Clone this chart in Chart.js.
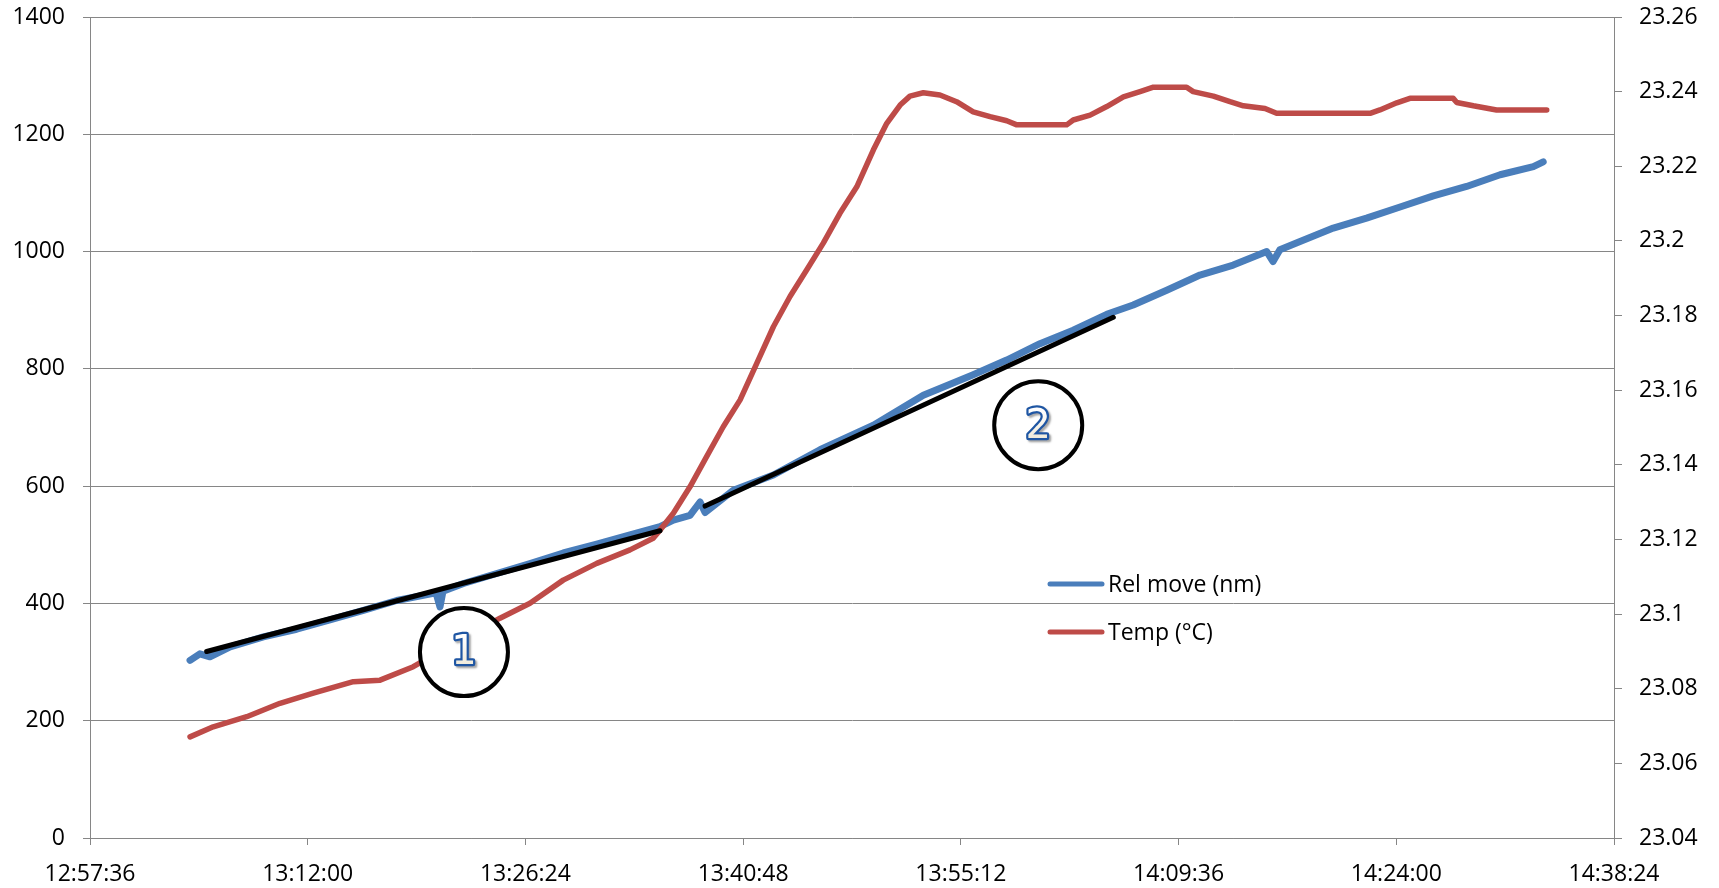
<!DOCTYPE html>
<html>
<head>
<meta charset="utf-8">
<script src="https://cdn.jsdelivr.net/npm/chart.js@4/dist/chart.umd.min.js"></script>
<style>
  html, body { margin: 0; padding: 0; background: #ffffff; }
  #wrap { position: relative; width: 1719px; height: 888px; }
</style>
</head>
<body>
<div id="wrap"><canvas id="c"></canvas></div>
<script>
// Axis tick labels
const timeTicks = ['12:57:36', '13:12:00', '13:26:24', '13:40:48', '13:55:12', '14:09:36', '14:24:00', '14:38:24'];
const moveTicks = [0, 200, 400, 600, 800, 1000, 1200, 1400];
const tempTicks = [23.04, 23.06, 23.08, 23.1, 23.12, 23.14, 23.16, 23.18, 23.2, 23.22, 23.24, 23.26];

// Relative movement (nm)
const moveTimes = ['13:04:13', '13:04:52', '13:05:32', '13:06:52', '13:09:04', '13:11:16', '13:13:28', '13:15:41',
  '13:17:53', '13:20:29', '13:20:45', '13:20:57', '13:22:18', '13:24:30', '13:26:42', '13:28:54', '13:31:07',
  '13:33:19', '13:35:18', '13:36:11', '13:37:17', '13:37:57', '13:38:17', '13:40:09', '13:42:48', '13:45:53',
  '13:49:25', '13:52:43', '13:56:01', '13:58:14', '14:00:26', '14:02:38', '14:04:51', '14:06:36', '14:08:49',
  '14:11:01', '14:13:13', '14:15:26', '14:15:51', '14:16:18', '14:17:38', '14:19:50', '14:22:02', '14:24:15',
  '14:26:27', '14:28:39', '14:30:52', '14:33:04', '14:33:43'];
const moveValues = [303, 314, 309, 326, 343, 356, 372, 388,
  405, 418, 394, 421, 434, 451, 468, 486, 501,
  517, 531, 542, 550, 573, 555, 593, 619, 662,
  704, 755, 790, 815, 843, 866, 893, 909, 934,
  960, 977, 1000, 983, 1003, 1017, 1040, 1057, 1076,
  1095, 1111, 1131, 1145, 1153];

// Temperature (°C)
const tempTimes = ['13:04:13', '13:05:45', '13:07:58', '13:10:10', '13:12:22', '13:15:01', '13:16:47', '13:18:59',
  '13:22:04', '13:24:43', '13:26:42', '13:28:54', '13:31:07', '13:33:19', '13:34:51', '13:35:18', '13:36:11',
  '13:37:17', '13:38:23', '13:39:29', '13:40:36', '13:41:42', '13:42:48', '13:43:54', '13:45:00', '13:46:06',
  '13:47:12', '13:48:19', '13:49:25', '13:50:18', '13:51:11', '13:51:50', '13:52:43', '13:53:49', '13:54:55',
  '13:56:01', '13:57:08', '13:58:14', '13:58:54', '14:02:12', '14:02:38', '14:03:45', '14:04:51', '14:05:57',
  '14:07:03', '14:07:56', '14:10:08', '14:10:34', '14:11:54', '14:13:00', '14:13:53', '14:15:19', '14:16:05',
  '14:22:16', '14:22:55', '14:24:02', '14:24:54', '14:27:46', '14:28:00', '14:29:06', '14:30:38', '14:33:57'];
const tempValues = [23.0671, 23.0698, 23.0725, 23.0761, 23.0788, 23.0819, 23.0823, 23.0859,
  23.0930, 23.0989, 23.1029, 23.1091, 23.1136, 23.1172, 23.1203, 23.1225, 23.1270,
  23.1341, 23.1422, 23.1502, 23.1574, 23.1672, 23.1770, 23.1851, 23.1922, 23.1994,
  23.2074, 23.2145, 23.2244, 23.2315, 23.2364, 23.2388, 23.2397, 23.2391, 23.2373,
  23.2346, 23.2333, 23.2322, 23.2311, 23.2311, 23.2324, 23.2337, 23.2360, 23.2386,
  23.2400, 23.2412, 23.2412, 23.2400, 23.2388, 23.2373, 23.2362, 23.2355, 23.2342,
  23.2342, 23.2351, 23.2370, 23.2382, 23.2382, 23.2371, 23.2362, 23.2351, 23.2351];

// Linear fits over the two phases
const fit1Times = ['13:05:19', '13:35:18'];
const fit1Values = [318, 524];
const fit2Times = ['13:38:17', '14:05:17'];
const fit2Values = [566, 888];

// Numbered phase markers
const markerLabels = ['1', '2'];
const markerTimes = ['13:22:20', '14:00:19'];
const markerValues = [317, 704];

// Legend entries
const seriesNames = ['Rel move (nm)', 'Temp (\u00B0C)'];

const BLUE = '#4a7ebb';
const RED = '#be4b48';
const GRID = '#868686';
const FONT = "'Open Sans', 'Liberation Sans', sans-serif";

function toSec(s) {
  const p = s.split(':').map(Number);
  return p[0] * 3600 + p[1] * 60 + p[2];
}
function pts(times, values) {
  return times.map((t, i) => ({ x: toSec(t), y: values[i] }));
}

const markerPlugin = {
  id: 'phaseMarkers',
  afterDatasetsDraw(chart) {
    const ctx = chart.ctx;
    const xs = chart.scales.x, ys = chart.scales.y;
    markerLabels.forEach((lab, i) => {
      const cx = xs.getPixelForValue(toSec(markerTimes[i]));
      const cy = ys.getPixelForValue(markerValues[i]);
      ctx.save();
      ctx.beginPath();
      ctx.arc(cx, cy, 44, 0, Math.PI * 2);
      ctx.fillStyle = '#ffffff';
      ctx.fill();
      ctx.lineWidth = 4;
      ctx.strokeStyle = '#000000';
      ctx.stroke();
      ctx.font = "40px 'DejaVu Sans', sans-serif";
      ctx.textAlign = 'center';
      ctx.textBaseline = 'middle';
      ctx.shadowColor = 'rgba(0,0,0,0.35)';
      ctx.shadowOffsetX = 2;
      ctx.shadowOffsetY = 2;
      ctx.shadowBlur = 2;
      ctx.lineJoin = 'round';
      ctx.lineWidth = 4.5;
      ctx.strokeStyle = '#1f56a3';
      ctx.strokeText(lab, cx, cy + 2);
      ctx.shadowColor = 'transparent';
      const g = ctx.createLinearGradient(0, cy - 15, 0, cy + 17);
      g.addColorStop(0, '#ffffff');
      g.addColorStop(1, '#eee8d6');
      ctx.fillStyle = g;
      ctx.fillText(lab, cx, cy + 2);
      ctx.restore();
    });
  }
};

const legendPlugin = {
  id: 'innerLegend',
  afterDraw(chart) {
    const ctx = chart.ctx;
    const a = chart.chartArea;
    const colors = [BLUE, RED];
    ctx.save();
    seriesNames.forEach((name, i) => {
      const y = a.top + 567 + i * 48;
      const x0 = a.left + 960;
      ctx.beginPath();
      ctx.moveTo(x0, y);
      ctx.lineTo(x0 + 52, y);
      ctx.lineWidth = 5;
      ctx.lineCap = 'round';
      ctx.strokeStyle = colors[i];
      ctx.stroke();
      ctx.font = '23px ' + FONT;
      ctx.fillStyle = '#000000';
      ctx.textAlign = 'left';
      ctx.textBaseline = 'middle';
      ctx.fillText(name, x0 + 58, y + 1);
    });
    ctx.restore();
  }
};

const lineStyle = {
  pointRadius: 0,
  pointHoverRadius: 0,
  tension: 0,
  borderJoinStyle: 'round',
  borderCapStyle: 'round',
  fill: false
};

new Chart(document.getElementById('c'), {
  type: 'line',
  data: {
    datasets: [
      Object.assign({ label: 'fit 1', data: pts(fit1Times, fit1Values), borderColor: '#000000', borderWidth: 5, yAxisID: 'y' }, lineStyle),
      Object.assign({ label: 'fit 2', data: pts(fit2Times, fit2Values), borderColor: '#000000', borderWidth: 5, yAxisID: 'y' }, lineStyle),
      Object.assign({ label: seriesNames[1], data: pts(tempTimes, tempValues), borderColor: RED, borderWidth: 5.5, yAxisID: 'y2' }, lineStyle),
      Object.assign({ label: seriesNames[0], data: pts(moveTimes, moveValues), borderColor: BLUE, borderWidth: 7, yAxisID: 'y' }, lineStyle)
    ]
  },
  options: {
    responsive: true,
    maintainAspectRatio: false,
    animation: false,
    events: [],
    layout: { padding: { top: 17, left: 0, right: 0, bottom: 0 } },
    plugins: { legend: { display: false }, tooltip: { enabled: false } },
    scales: {
      x: {
        type: 'linear',
        position: 'bottom',
        min: toSec(timeTicks[0]),
        max: toSec(timeTicks[timeTicks.length - 1]),
        afterBuildTicks: s => { s.ticks = timeTicks.map(t => ({ value: toSec(t) })); },
        afterFit: s => { s.height = 50; },
        ticks: {
          callback: (v, i) => timeTicks[i],
          autoSkip: false, maxRotation: 0, padding: 16,
          color: '#000000', font: { family: FONT, size: 23 }
        },
        grid: { drawOnChartArea: false, drawTicks: true, tickLength: 7, color: GRID, lineWidth: 1 },
        border: { display: true, color: GRID, width: 1 }
      },
      y: {
        type: 'linear',
        position: 'left',
        min: 0, max: 1400,
        afterBuildTicks: s => { s.ticks = moveTicks.map(v => ({ value: v })); },
        afterFit: s => { s.width = 90; s.paddingTop = 0; s.paddingBottom = 0; },
        ticks: { callback: (v, i) => String(moveTicks[i]), padding: 18, color: '#000000', font: { family: FONT, size: 23, lineHeight: 0.5 } },
        grid: { color: GRID, lineWidth: 1, tickLength: 7 },
        border: { display: true, color: GRID, width: 1 }
      },
      y2: {
        type: 'linear',
        position: 'right',
        min: 23.04, max: 23.26,
        afterBuildTicks: s => { s.ticks = tempTicks.map(v => ({ value: v })); },
        afterFit: s => { s.width = 105; s.paddingTop = 0; s.paddingBottom = 0; },
        ticks: { callback: (v, i) => String(tempTicks[i]), padding: 17, color: '#000000', font: { family: FONT, size: 23, lineHeight: 0.5 } },
        grid: { drawOnChartArea: false, drawTicks: true, tickLength: 8, color: GRID, lineWidth: 1 },
        border: { display: true, color: GRID, width: 1 }
      }
    }
  },
  plugins: [markerPlugin, legendPlugin]
});
</script>
</body>
</html>
